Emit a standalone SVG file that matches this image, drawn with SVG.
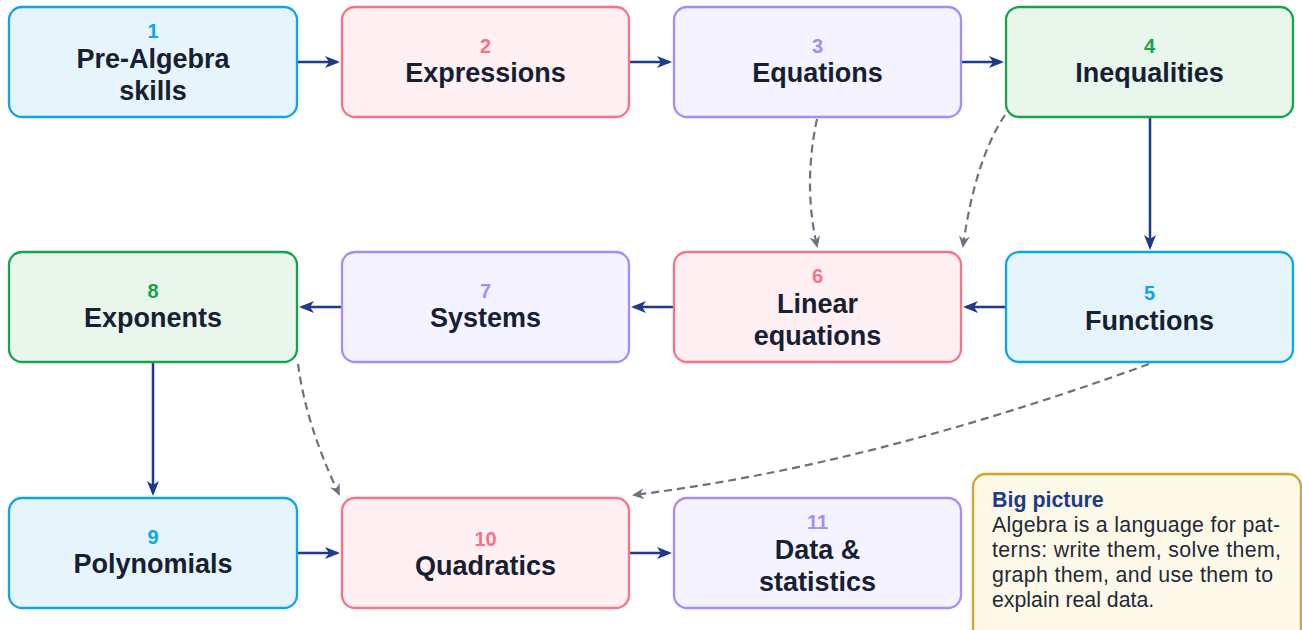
<svg xmlns="http://www.w3.org/2000/svg" width="1302" height="630" viewBox="0 0 1302 630">
<defs>
<style>
.box{stroke-width:2.3}
.blue{fill:#e6f4fb;stroke:#0ea5e9}
.pink{fill:#fff0f3;stroke:#fb7185}
.purple{fill:#f5f3ff;stroke:#a78bfa}
.green{fill:#e8f6ec;stroke:#16a34a}
.num{font-family:"Liberation Sans",Arial,sans-serif;font-weight:bold;font-size:20px;text-anchor:middle}
.nb{fill:#0ea5e9}.np{fill:#fb7185}.nu{fill:#a78bfa}.ng{fill:#16a34a}
.title{font-family:"Liberation Sans",Arial,sans-serif;font-weight:bold;font-size:27px;text-anchor:middle;fill:#172033}
.solid{fill:none;stroke:#1e3a8a;stroke-width:2.5}
.dash{fill:none;stroke:#6b7280;stroke-width:2.2;stroke-dasharray:8 5}
.note{fill:#fdf9e8;stroke:#d4a42a;stroke-width:2.3}
.nt{font-family:"Liberation Sans",Arial,sans-serif;font-weight:bold;font-size:21.4px;fill:#1e3a8a}
.nbody{font-family:"Liberation Sans",Arial,sans-serif;font-size:21.3px;fill:#1f2937}
</style>
<marker id="ah" viewBox="0 0 15 12" refX="12" refY="6" markerWidth="15" markerHeight="12" markerUnits="userSpaceOnUse" orient="auto">
<path d="M0,0 L15,6 L0,12 L4,6 z" fill="#1e3a8a"/>
</marker>
<marker id="ahg" viewBox="0 0 12 11" refX="10" refY="5.5" markerWidth="12" markerHeight="11" markerUnits="userSpaceOnUse" orient="auto">
<path d="M0,0 L12,5.5 L0,11 L4,5.5 z" fill="#6b7280"/>
</marker>
</defs>
<rect width="1302" height="630" fill="#ffffff"/>

<g id="connectors">
<path class="solid" d="M297,62 L337,62" marker-end="url(#ah)"/>
<path class="solid" d="M629,62 L669,62" marker-end="url(#ah)"/>
<path class="solid" d="M961,62 L1001,62" marker-end="url(#ah)"/>
<path class="solid" d="M1150,117 L1150,247" marker-end="url(#ah)"/>
<path class="solid" d="M1006,307 L966,307" marker-end="url(#ah)"/>
<path class="solid" d="M674,307 L634,307" marker-end="url(#ah)"/>
<path class="solid" d="M342,307 L302,307" marker-end="url(#ah)"/>
<path class="solid" d="M153,362 L153,493" marker-end="url(#ah)"/>
<path class="solid" d="M297,553 L337,553" marker-end="url(#ah)"/>
<path class="solid" d="M629,553 L669,553" marker-end="url(#ah)"/>
<path class="dash" d="M817,119 Q803,185 817,246" marker-end="url(#ahg)"/>
<path class="dash" d="M1005,115 Q975,160 963,246" marker-end="url(#ahg)"/>
<path class="dash" d="M298,364 Q306,425 339,494" marker-end="url(#ahg)"/>
<path class="dash" d="M1149,364 Q869,466 634,495" marker-end="url(#ahg)"/>
</g>

<g id="node1"><rect class="box blue" x="9" y="7" width="288" height="110" rx="13"/>
<text class="num nb" x="153" y="38">1</text>
<text class="title" x="153" y="68">Pre-Algebra</text><text class="title" x="153" y="100">skills</text></g>
<g id="node2"><rect class="box pink" x="342" y="7" width="287" height="110" rx="13"/>
<text class="num np" x="485.5" y="53">2</text><text class="title" x="485.5" y="82">Expressions</text></g>
<g id="node3"><rect class="box purple" x="674" y="7" width="287" height="110" rx="13"/>
<text class="num nu" x="817.5" y="53">3</text><text class="title" x="817.5" y="82">Equations</text></g>
<g id="node4"><rect class="box green" x="1006" y="7" width="287" height="110" rx="13"/>
<text class="num ng" x="1149.5" y="53">4</text><text class="title" x="1149.5" y="82">Inequalities</text></g>

<g id="node5"><rect class="box blue" x="1006" y="252" width="287" height="110" rx="13"/>
<text class="num nb" x="1149.5" y="300">5</text><text class="title" x="1149.5" y="330">Functions</text></g>
<g id="node6"><rect class="box pink" x="674" y="252" width="287" height="110" rx="13"/>
<text class="num np" x="817.5" y="283">6</text>
<text class="title" x="817.5" y="313">Linear</text><text class="title" x="817.5" y="345">equations</text></g>
<g id="node7"><rect class="box purple" x="342" y="252" width="287" height="110" rx="13"/>
<text class="num nu" x="485.5" y="298">7</text><text class="title" x="485.5" y="327">Systems</text></g>
<g id="node8"><rect class="box green" x="9" y="252" width="288" height="110" rx="13"/>
<text class="num ng" x="153" y="298">8</text><text class="title" x="153" y="327">Exponents</text></g>

<g id="node9"><rect class="box blue" x="9" y="498" width="288" height="110" rx="13"/>
<text class="num nb" x="153" y="544">9</text><text class="title" x="153" y="573">Polynomials</text></g>
<g id="node10"><rect class="box pink" x="342" y="498" width="287" height="110" rx="13"/>
<text class="num np" x="485.5" y="546">10</text><text class="title" x="485.5" y="575">Quadratics</text></g>
<g id="node11"><rect class="box purple" x="674" y="498" width="287" height="110" rx="13"/>
<text class="num nu" x="817.5" y="529">11</text>
<text class="title" x="817.5" y="559">Data &amp;</text><text class="title" x="817.5" y="591">statistics</text></g>

<g id="bigpicture"><rect class="note" x="973" y="474" width="328" height="170" rx="13"/>
<text class="nt" x="992" y="507">Big picture</text>
<text class="nbody" x="992" y="532" textLength="288" lengthAdjust="spacing">Algebra is a language for pat-</text>
<text class="nbody" x="992" y="557" textLength="289" lengthAdjust="spacing">terns: write them, solve them,</text>
<text class="nbody" x="992" y="582" textLength="281" lengthAdjust="spacing">graph them, and use them to</text>
<text class="nbody" x="992" y="607">explain real data.</text></g>
</svg>
